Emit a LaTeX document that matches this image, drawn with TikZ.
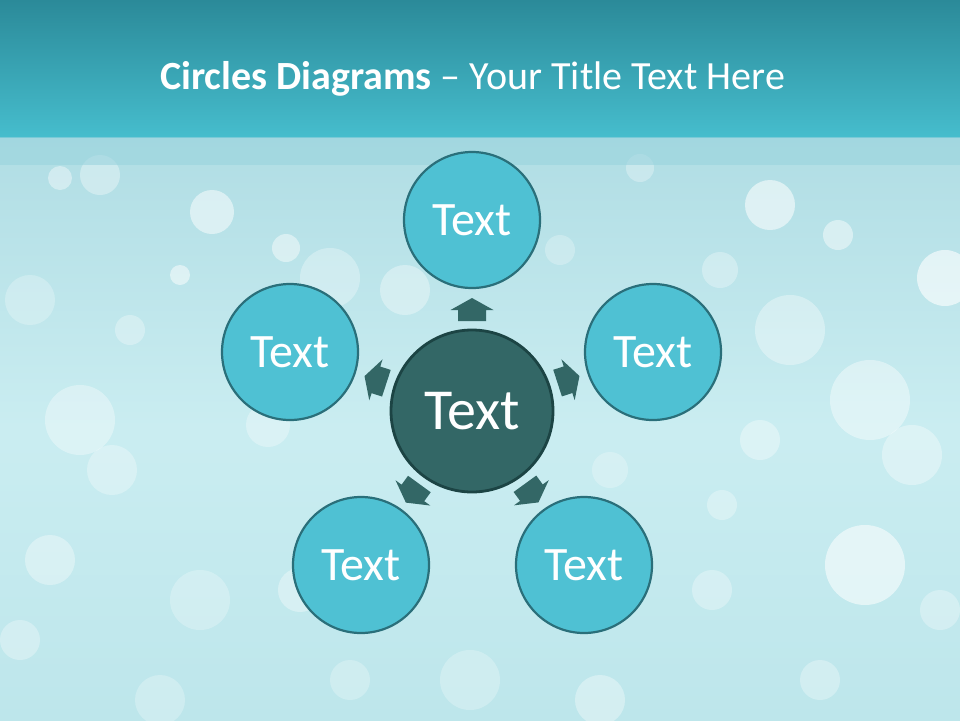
\documentclass[tikz,border=0pt]{standalone}
\usepackage{fontspec}
\setmainfont{Carlito}
\usetikzlibrary{calc}
\definecolor{hdrtop}{HTML}{2B8A99}
\definecolor{hdrbot}{HTML}{46BDCD}
\definecolor{bandc}{HTML}{9AD4DE}
\definecolor{bgtop}{HTML}{B0DDE4}
\definecolor{bgmid}{HTML}{CAEDF1}
\definecolor{bgbot}{HTML}{BDE6EB}
\definecolor{outerfill}{HTML}{4FC1D3}
\definecolor{outerline}{HTML}{2A6F7A}
\definecolor{centerfill}{HTML}{336766}
\definecolor{centerline}{HTML}{1C4444}
\definecolor{arrowfill}{HTML}{336766}
\tikzset{
  outer/.style={circle, minimum size=136pt, inner sep=0pt, fill=outerfill, draw=outerline, line width=2.2pt, text=white, font=\fontsize{48}{52}\selectfont},
  central/.style={circle, minimum size=162pt, inner sep=0pt, fill=centerfill, draw=centerline, line width=2.8pt, text=white, font=\fontsize{58}{62}\selectfont},
  bokeh/.style={fill=white, fill opacity=0.35},
  blockarr/.pic={\fill[arrowfill] (0,-14) -- (11,-14) -- (11,-21.5) -- (23,0) -- (11,21.5) -- (11,14) -- (0,14) -- cycle;}
}
\begin{document}
\begin{tikzpicture}[x=1pt,y=-1pt]
\useasboundingbox (0,0) rectangle (960,720);
% background
\shade[top color=bgtop, bottom color=bgbot, middle color=bgmid] (0,137) rectangle (960,720);
% bokeh
\foreach \x/\y/\r/\o in {212/212/22/0.5, 286/248/14/0.45, 180/275/10/0.5, 770/205/25/0.55, 838/235/15/0.45, 945/278/28/0.6, 790/330/35/0.35, 870/400/40/0.4, 912/455/30/0.35, 80/420/35/0.35, 112/470/25/0.3, 50/560/25/0.35, 865/565/40/0.55, 760/440/20/0.35, 330/278/30/0.3, 405/290/25/0.35, 268/425/22/0.3, 300/590/22/0.35, 712/590/20/0.3, 600/700/25/0.35, 200/600/30/0.25, 640/168/14/0.3, 100/175/20/0.35, 60/178/12/0.4, 940/610/20/0.3, 130/330/15/0.3, 722/505/15/0.3, 30/300/25/0.25, 720/270/18/0.3, 560/250/15/0.25, 470/680/30/0.25, 350/680/20/0.25, 820/680/20/0.3, 160/700/25/0.25, 20/640/20/0.3, 610/470/18/0.25}
  \fill[bokeh, fill opacity=\o] (\x,\y) circle (\r);
% header
\shade[top color=hdrtop, bottom color=hdrbot] (0,0) rectangle (960,137);
\fill[bandc, opacity=0.6] (0,137) rectangle (960,165);
\node[anchor=base west, text=white, font=\fontsize{40}{44}\selectfont, inner sep=0pt] (title) at (160,89) {\textbf{Circles Diagrams} – Your Title Text Here};
% circles
\node[central] (c) at (472,411) {Text};
\node[outer] (top) at (472,220) {Text};
\node[outer] (right) at (653,352) {Text};
\node[outer] (left) at (290,352) {Text};
\node[outer] (bl) at (361,565) {Text};
\node[outer] (br) at (584,565) {Text};
% arrows
\pic[rotate=90] at ($(c.center)!90pt!(top.center)$) {blockarr};
\pic[rotate=18] at ($(c.center)!90pt!(right.center)$) {blockarr};
\pic[rotate=162] at ($(c.center)!90pt!(left.center)$) {blockarr};
\pic[rotate=-126] at ($(c.center)!90pt!(bl.center)$) {blockarr};
\pic[rotate=-54] at ($(c.center)!90pt!(br.center)$) {blockarr};
\end{tikzpicture}
\end{document}
